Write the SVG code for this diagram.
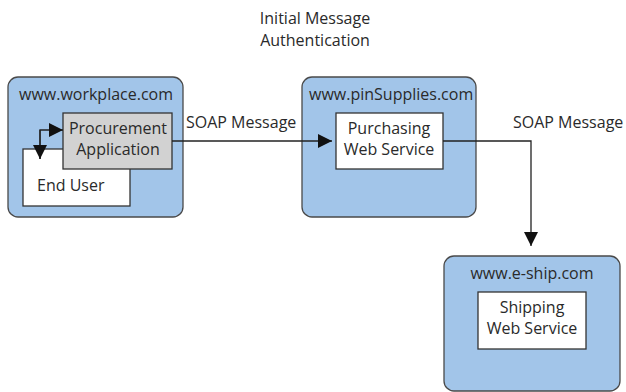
<svg xmlns="http://www.w3.org/2000/svg" width="626" height="392" viewBox="0 0 626 392">
<style>
.dom{fill:#a2c5e9;stroke:#4a4a4a;stroke-width:1.3}
.box{fill:#fff;stroke:#333;stroke-width:1.3}
.gray{fill:#d2d2d2;stroke:#333;stroke-width:1.3}
text{font-family:"Open Sans","Noto Sans",sans-serif;font-size:16px;fill:#2a2a2a}
.c{text-anchor:middle}
.ln{fill:none;stroke:#222;stroke-width:1.3}
</style>
<defs>
<marker id="ah" viewBox="0 0 10 10" refX="10" refY="5" markerWidth="14" markerHeight="14" markerUnits="userSpaceOnUse" orient="auto">
<path d="M0,0 L10,5 L0,10 Z" fill="#111"/>
</marker>
</defs>
<rect width="626" height="392" fill="#fff"/>
<g id="title">
<text class="c" x="315" y="24">Initial Message</text>
<text class="c" x="315" y="46">Authentication</text>
</g>
<g id="workplace">
<rect class="dom" x="8" y="77" width="175" height="140" rx="10"/>
<text x="19" y="100">www.workplace.com</text>
</g>
<g id="enduser">
<rect class="box" x="23" y="149" width="107" height="57"/>
<text x="37" y="191">End User</text>
</g>
<g id="procurement">
<rect class="gray" x="63" y="113" width="109" height="56"/>
<text class="c" x="118" y="134">Procurement</text>
<text class="c" x="118" y="155">Application</text>
</g>
<g id="pinsupplies">
<rect class="dom" x="302" y="77" width="174" height="140" rx="10"/>
<text x="309" y="100">www.pinSupplies.com</text>
</g>
<g id="purchasing">
<rect class="box" x="336" y="113" width="107" height="56"/>
<text class="c" x="389" y="134">Purchasing</text>
<text class="c" x="389" y="155">Web Service</text>
</g>
<g id="eship">
<rect class="dom" x="444" y="256" width="176" height="135" rx="10"/>
<text class="c" x="532" y="279">www.e-ship.com</text>
</g>
<g id="shipping">
<rect class="box" x="478" y="292" width="108" height="57"/>
<text class="c" x="532" y="313">Shipping</text>
<text class="c" x="532" y="334">Web Service</text>
</g>
<g id="connectors">
<path class="ln" d="M40,159 L40,130 L63,130" marker-end="url(#ah)"/>
<path class="ln" d="M40,130 L40,159" marker-end="url(#ah)"/>
<path class="ln" d="M172,141 L332,141" marker-end="url(#ah)"/>
<path class="ln" d="M443,141 L531,141 L531,246" marker-end="url(#ah)"/>
<text x="186" y="128">SOAP Message</text>
<text x="513" y="128">SOAP Message</text>
</g>
</svg>
